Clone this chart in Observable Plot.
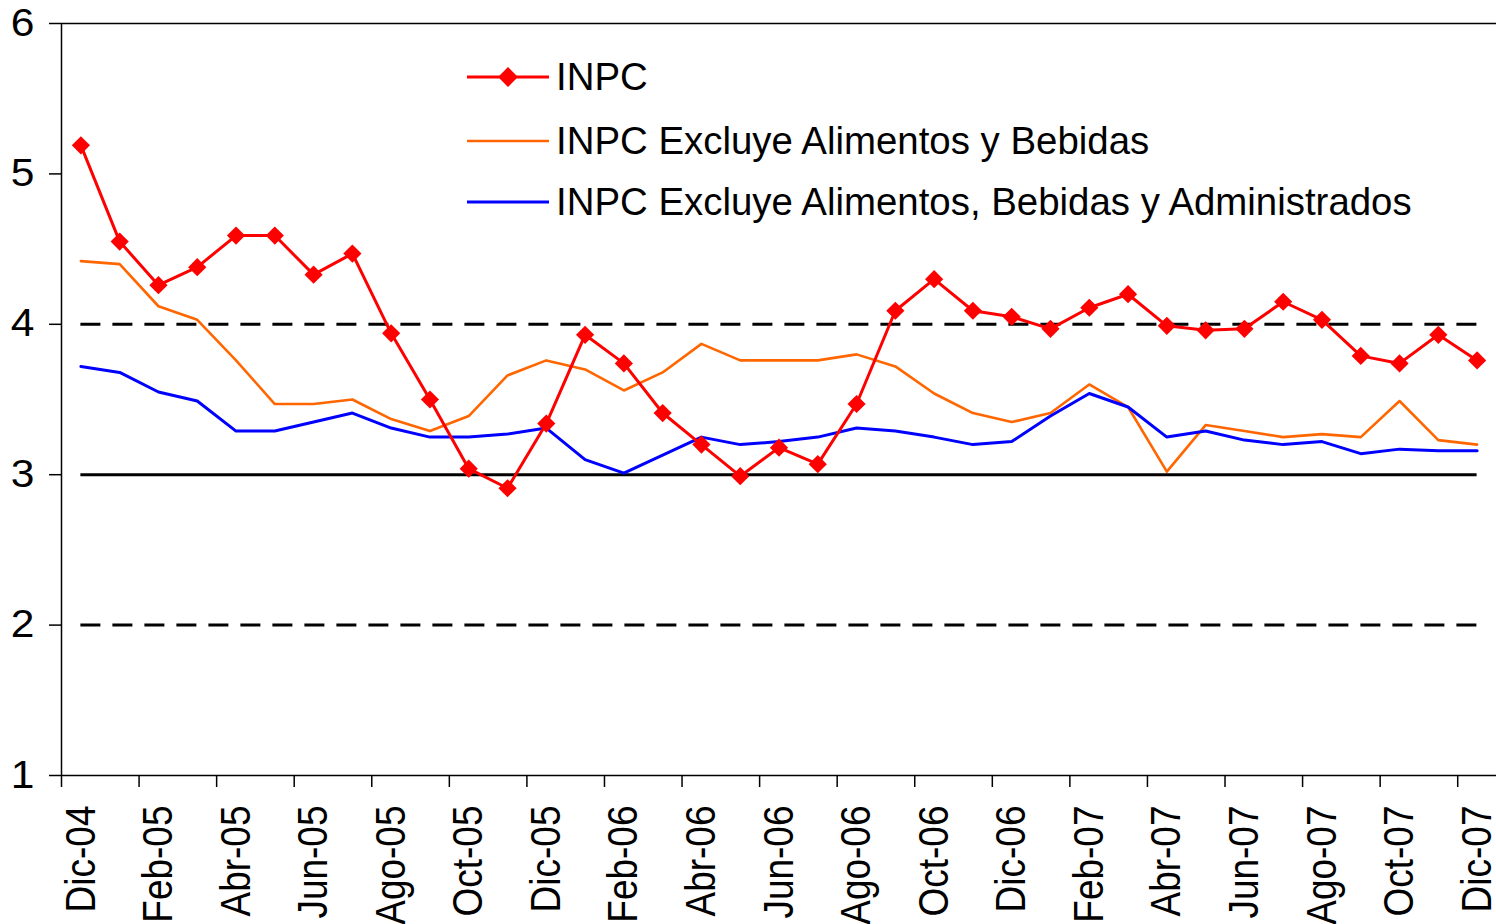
<!DOCTYPE html>
<html>
<head>
<meta charset="utf-8">
<script src="https://cdn.jsdelivr.net/npm/d3@7"></script>
<script src="https://cdn.jsdelivr.net/npm/@observablehq/plot@0.6"></script>
<style>
  html, body { margin: 0; padding: 0; background: #fff; }
  #wrap { position: relative; width: 1496px; height: 924px; overflow: hidden; font-family: "Liberation Sans", Arial, sans-serif; color: #000; }
  #chart svg { display: block; }
  .lg-row { position: absolute; left: 467px; height: 40px; display: flex; align-items: center; white-space: nowrap; }
  .lg-row span { margin-left: 7px; font-size: 38.4px; line-height: 40px; color: #000; }
</style>
</head>
<body>
<div id="wrap">
  <div id="chart"></div>
  <div id="legend"></div>
</div>
<script>
// ---- Data ----
const months = ["Dic-04","Ene-05","Feb-05","Mar-05","Abr-05","May-05","Jun-05","Jul-05","Ago-05","Sep-05","Oct-05","Nov-05",
  "Dic-05","Ene-06","Feb-06","Mar-06","Abr-06","May-06","Jun-06","Jul-06","Ago-06","Sep-06","Oct-06","Nov-06",
  "Dic-06","Ene-07","Feb-07","Mar-07","Abr-07","May-07","Jun-07","Jul-07","Ago-07","Sep-07","Oct-07","Nov-07","Dic-07"];

const inpc = [5.19,4.55,4.26,4.38,4.59,4.59,4.33,4.47,3.94,3.50,3.04,2.91,
  3.34,3.93,3.74,3.41,3.20,2.99,3.18,3.07,3.47,4.09,4.30,4.09,
  4.05,3.97,4.11,4.20,3.99,3.96,3.97,4.15,4.03,3.79,3.74,3.93,3.76];

const inpcSinAlimentos = [4.42,4.40,4.12,4.03,3.76,3.47,3.47,3.50,3.37,3.29,3.39,3.66,
  3.76,3.70,3.56,3.68,3.87,3.76,3.76,3.76,3.80,3.72,3.54,3.41,
  3.35,3.41,3.60,3.45,3.02,3.33,3.29,3.25,3.27,3.25,3.49,3.23,3.20];

const inpcSinAlimentosAdmin = [3.72,3.68,3.55,3.49,3.29,3.29,3.35,3.41,3.31,3.25,3.25,3.27,
  3.31,3.10,3.01,3.13,3.25,3.20,3.22,3.25,3.31,3.29,3.25,3.20,
  3.22,3.39,3.54,3.45,3.25,3.29,3.23,3.20,3.22,3.14,3.17,3.16,3.16];

const seriesNames = ["INPC", "INPC Excluye Alimentos y Bebidas", "INPC Excluye Alimentos, Bebidas y Administrados"];
const seriesColors = ["#ff0000", "#ff6600", "#0000ff"];

const tickLabels = ["Dic-04","Feb-05","Abr-05","Jun-05","Ago-05","Oct-05","Dic-05","Feb-06","Abr-06","Jun-06",
  "Ago-06","Oct-06","Dic-06","Feb-07","Abr-07","Jun-07","Ago-07","Oct-07","Dic-07"];
const yTicks = [1, 2, 3, 4, 5, 6];
const targetValue = [3];
const targetBand = [2, 4];

// ---- Build tables ----
const mk = (vals) => vals.map((v, i) => ({i, month: months[i], v}));
const red = mk(inpc), orange = mk(inpcSinAlimentos), blue = mk(inpcSinAlimentosAdmin);
const labelIdx = tickLabels.map(l => months.indexOf(l));
const boundaryTicks = labelIdx.map(i => i - 0.5);
const first = 0, last = months.length - 1;
const font = "'Liberation Sans', Arial, sans-serif";

const chart = Plot.plot({
  width: 1496,
  height: 924,
  marginLeft: 61,
  marginRight: 0,
  marginTop: 23,
  marginBottom: 149,
  style: {fontFamily: font, color: "#000", background: "#fff", overflow: "visible"},
  x: {type: "linear", domain: [first - 0.5, last + 0.5]},
  y: {domain: [yTicks[0], yTicks[yTicks.length - 1]]},
  marks: [
    Plot.ruleY(targetBand, {x1: first, x2: last, stroke: "#000", strokeWidth: 3, strokeDasharray: "20,12"}),
    Plot.ruleY(targetValue, {x1: first, x2: last, stroke: "#000", strokeWidth: 3}),
    Plot.ruleX([first - 0.5], {stroke: "#000", strokeWidth: 1.5}),
    Plot.ruleY([yTicks[0], yTicks[yTicks.length - 1]], {stroke: "#000", strokeWidth: 1.5}),
    Plot.line(orange, {x: "i", y: "v", stroke: seriesColors[1], strokeWidth: 2.6}),
    Plot.line(blue, {x: "i", y: "v", stroke: seriesColors[2], strokeWidth: 3}),
    Plot.line(red, {x: "i", y: "v", stroke: seriesColors[0], strokeWidth: 3}),
    Plot.dot(red, {x: "i", y: "v", symbol: "diamond2", r: 8.2, fill: seriesColors[0], stroke: "none"}),
    Plot.axisY({ticks: yTicks, tickSize: 12, tickPadding: 15, fontSize: 38, label: null, stroke: "#000", strokeWidth: 1.5, tickFormat: d => String(d)}),
    Plot.axisX({ticks: boundaryTicks, tickSize: 12, tickFormat: () => "", label: null, stroke: "#000", strokeWidth: 1.5}),
    Plot.axisX({ticks: labelIdx, tickSize: 0, tickPadding: 30, tickRotate: -90, fontSize: 37, label: null, tickFormat: i => months[i]})
  ]
});
document.getElementById("chart").appendChild(chart);

// Slight widening of tick-label glyphs, as in the reference's typeface (scale about each label's anchor)
function stretch(el, sx, sy) {
  const t = el.getAttribute("transform");
  if (t) el.setAttribute("transform", `${t} scale(${sx},${sy})`);
}
chart.querySelectorAll('g[aria-label="y-axis tick label"] text').forEach(el => stretch(el, 1.12, 1));
chart.querySelectorAll('g[aria-label="x-axis tick label"] text').forEach(el => stretch(el, 1, 1.15));

// ---- Legend (HTML overlay) ----
const legendCenters = [77, 141, 202];
const legend = document.getElementById("legend");
seriesNames.forEach((name, k) => {
  const row = document.createElement("div");
  row.className = "lg-row";
  row.style.top = (legendCenters[k] - 20) + "px";
  const marker = k === 0 ? `<rect x="34" y="13" width="14" height="14" transform="rotate(45 41 20)" fill="${seriesColors[k]}"/>` : "";
  row.innerHTML = `<svg width="82" height="40"><line x1="0" x2="82" y1="20" y2="20" stroke="${seriesColors[k]}" stroke-width="${k === 1 ? 2.6 : 3}"/>${marker}</svg><span>${name}</span>`;
  legend.appendChild(row);
});
</script>
</body>
</html>
